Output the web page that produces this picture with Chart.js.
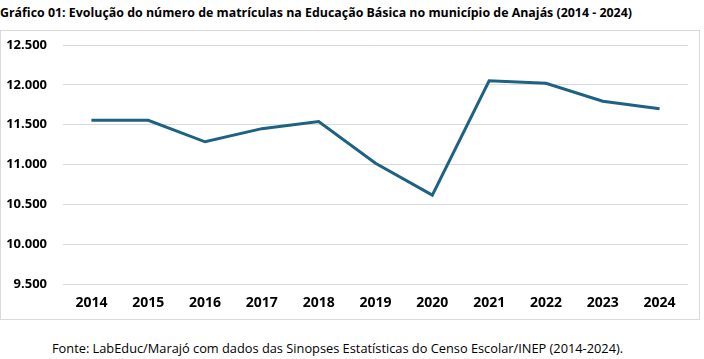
<!doctype html>
<html>
    <head>
        <meta charset="utf-8">
        <title>Gráfico 01</title>
        <script src="https://cdn.jsdelivr.net/npm/chart.js@4.4.1/dist/chart.umd.min.js"></script>
        <style>
            body{
                margin:0;
                background:#fff;
                font-family:"Open Sans",sans-serif;
            }
            .titulo{
                position:absolute;
                left:0; top:4px;
                font-size:12.4px;
                font-weight:bold;
                color:#000;
                white-space:nowrap;
            }
            .chartContainer{
                position:absolute;
                left:0; top:30px;
                width:700px; height:290px;
                border:1px solid #d9d9d9;
                box-sizing:border-box;
            }
            .fonte{
                position:absolute;
                left:52px; top:339px;
                font-size:12.8px;
                color:#000;
                white-space:nowrap;
            }
        </style>
    </head>
    <body>
        <div class="titulo">Gráfico 01: Evolução do número de matrículas na Educação Básica no município de Anajás (2014 - 2024)</div>

        <div class="chartContainer">
            <canvas id="matChart"></canvas>
        </div>

        <div class="fonte">Fonte: LabEduc/Marajó com dados das Sinopses Estatísticas do Censo Escolar/INEP (2014-2024).</div>

        <script>
        // anos e matrículas
        var anos = ['2014','2015','2016','2017','2018','2019','2020','2021','2022','2023','2024'];
        var matriculas = [11555, 11555, 11285, 11450, 11540, 11015, 10615, 12050, 12020, 11795, 11700];
        var yTicks = [9500, 10000, 10500, 11000, 11500, 12000, 12500];

        function fmt(v){
            return String(v).replace(/\B(?=(\d{3})+(?!\d))/g, '.');
        }

        var fam = '"Open Sans",sans-serif';

        new Chart(document.getElementById('matChart'), {
            type:'line',
            data:{
                labels: anos,
                datasets:[{
                    data: matriculas,
                    borderColor:'#1d6283',
                    borderWidth:3,
                    pointRadius:0,
                    tension:0,
                    fill:false
                }]
            },
            options:{
                responsive:true,
                maintainAspectRatio:false,
                animation:false,
                layout:{ padding:{ left:0, top:14, right:11, bottom:0 } },
                plugins:{
                    legend:{ display:false },
                    tooltip:{ enabled:false }
                },
                scales:{
                    x:{
                        offset:true,
                        grid:{ display:false, drawTicks:false },
                        border:{ display:false },
                        ticks:{
                            padding:11,
                            color:'#000',
                            font:{ family:fam, size:14, weight:'bold' }
                        },
                        afterFit:function(s){ s.height = 35; }
                    },
                    y:{
                        min: yTicks[0],
                        max: yTicks[yTicks.length-1],
                        afterBuildTicks:function(s){
                            s.ticks = yTicks.map(function(v){ return {value:v}; });
                        },
                        grid:{ color:'#d9d9d9', lineWidth:1, drawTicks:false },
                        border:{ display:false },
                        ticks:{
                            padding:16,
                            color:'#000',
                            font:{ family:fam, size:13, weight:'bold' },
                            callback:function(v){ return fmt(v); }
                        },
                        afterFit:function(s){
                            s.width = 62;
                            // tick padding would otherwise push the plot down
                            s.paddingTop = 8;
                            s.paddingBottom = 8;
                        }
                    }
                }
            }
        });
        </script>
    </body>
</html>
